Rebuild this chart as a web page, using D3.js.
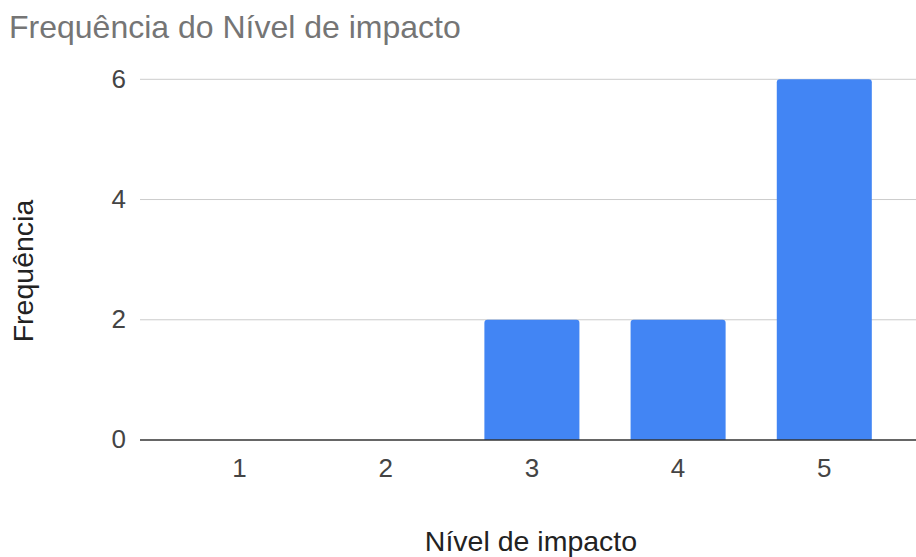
<!DOCTYPE html>
<html>
<head>
<meta charset="utf-8">
<script src="https://cdn.jsdelivr.net/npm/d3@7"></script>
<style>
  html, body { margin: 0; padding: 0; background: #fff; }
  svg { display: block; font-family: Arial, "Liberation Sans", sans-serif; }
</style>
</head>
<body>
<svg id="chart" width="916" height="557"></svg>
<script>
// Frequency of each impact level
const categories = ["1", "2", "3", "4", "5"];
const frequencies = [0, 0, 2, 2, 6];
const yTicks = [0, 2, 4, 6];

const titleText = "Frequência do Nível de impacto";
const xTitle = "Nível de impacto";
const yTitle = "Frequência";

const svg = d3.select("#chart");
const W = 916, H = 557;
const FONT = "Arial, 'Liberation Sans', sans-serif";

const x = d3.scaleBand()
  .domain(categories)
  .range([166.4, 897.4])
  .paddingInner(0.35)
  .paddingOuter(0.175);

const y = d3.scaleLinear()
  .domain([0, 6])
  .range([440, 79.3]);

// title
svg.append("text")
  .attr("x", 9)
  .attr("y", 38)
  .attr("fill", "#757575")
  .attr("font-size", 32)
  .text(titleText);

// horizontal gridlines
svg.append("g")
  .selectAll("line")
  .data(yTicks.filter(d => d !== 0))
  .join("line")
  .attr("x1", 140).attr("x2", W)
  .attr("y1", d => y(d)).attr("y2", d => y(d))
  .attr("stroke", "#cccccc")
  .attr("stroke-width", 1);

// y axis labels
const yAxis = d3.axisLeft(y).tickValues(yTicks).tickFormat(d3.format("d")).tickSize(0).tickPadding(0);
const gy = svg.append("g").attr("transform", "translate(126,0)").call(yAxis);
gy.select(".domain").remove();
gy.selectAll("text")
  .attr("fill", "#444")
  .attr("font-size", 26)
  .attr("font-family", FONT)
  .attr("dy", "0.3em");

// bars with slightly rounded tops
const r = 3;
svg.append("g")
  .selectAll("path")
  .data(categories.map((c, i) => ({ c, v: frequencies[i] })).filter(d => d.v > 0))
  .join("path")
  .attr("fill", "#4285f4")
  .attr("d", d => {
    const x0 = x(d.c), x1 = x0 + x.bandwidth();
    const y0 = y(0), y1 = y(d.v);
    return `M${x0},${y0}V${y1 + r}Q${x0},${y1} ${x0 + r},${y1}H${x1 - r}Q${x1},${y1} ${x1},${y1 + r}V${y0}Z`;
  });

// zero baseline
svg.append("line")
  .attr("x1", 140).attr("x2", W)
  .attr("y1", y(0)).attr("y2", y(0))
  .attr("stroke", "#333")
  .attr("stroke-width", 1.5);

// x axis labels
const xAxis = d3.axisBottom(x).tickSize(0).tickPadding(0);
const gx = svg.append("g").attr("transform", "translate(0,440)").call(xAxis);
gx.select(".domain").remove();
gx.selectAll("text")
  .attr("fill", "#444")
  .attr("font-size", 26)
  .attr("font-family", FONT)
  .attr("dy", null)
  .attr("y", 37);

// axis titles
svg.append("text")
  .attr("x", 531)
  .attr("y", 551)
  .attr("text-anchor", "middle")
  .attr("fill", "#222")
  .attr("font-size", 28.5)
  .text(xTitle);

svg.append("text")
  .attr("transform", "translate(32.5,271) rotate(-90)")
  .attr("text-anchor", "middle")
  .attr("fill", "#222")
  .attr("font-size", 28.5)
  .text(yTitle);
</script>
</body>
</html>
